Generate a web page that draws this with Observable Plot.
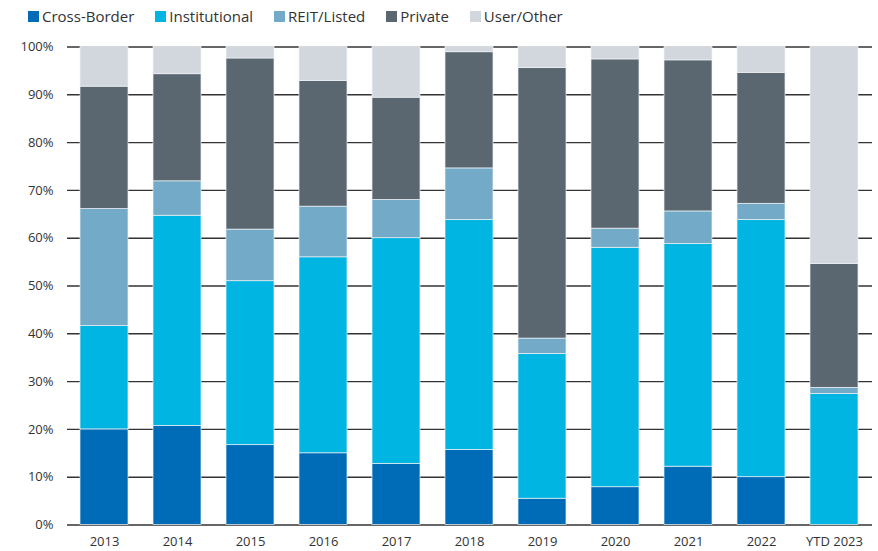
<!DOCTYPE html>
<html>
<head>
<meta charset="utf-8">
<script src="https://cdn.jsdelivr.net/npm/d3@7"></script>
<script src="https://cdn.jsdelivr.net/npm/@observablehq/plot@0.6"></script>
<style>
  body { margin: 0; background: #fff; font-family: "Open Sans", sans-serif; }
  #legend { height: 32px; display: flex; align-items: center; padding-left: 28px; font-size: 15px; color: #333; }
  #legend .item { display: flex; align-items: center; margin-right: 21px; }
  #legend .sw { width: 11px; height: 11px; margin-right: 3px; }
</style>
</head>
<body>
<div id="legend"></div>
<div id="chart"></div>
<script>
const years = ["2013","2014","2015","2016","2017","2018","2019","2020","2021","2022","YTD 2023"];
const seriesNames = ["Cross-Border","Institutional","REIT/Listed","Private","User/Other"];
const colors = ["#006BB6","#00B5E2","#72AAC8","#5A6670","#D1D7DC"];
const crossBorder   = [20.0, 20.7, 16.7, 15.0, 12.8, 15.7,  5.5,  7.9, 12.2, 10.0,  0.0];
const institutional = [21.6, 44.0, 34.3, 41.0, 47.2, 48.1, 30.3, 50.1, 46.6, 53.8, 27.4];
const reitListed    = [24.5,  7.2, 10.8, 10.6,  8.0, 10.8,  3.2,  4.0,  6.8,  3.4,  1.3];
const privateBuyers = [25.6, 22.4, 35.8, 26.3, 21.4, 24.3, 56.6, 35.4, 31.6, 27.4, 25.9];
const userOther     = [ 8.3,  5.7,  2.4,  7.1, 10.6,  1.1,  4.4,  2.6,  2.8,  5.4, 45.4];
const yTicks = [0,10,20,30,40,50,60,70,80,90,100];

const seriesValues = [crossBorder, institutional, reitListed, privateBuyers, userOther];
const data = [];
years.forEach((yr, i) => {
  seriesNames.forEach((s, j) => data.push({year: yr, series: s, value: seriesValues[j][i]}));
});

const legend = document.getElementById("legend");
seriesNames.forEach((s, j) => {
  const it = document.createElement("div");
  it.className = "item";
  it.innerHTML = `<span class="sw" style="background:${colors[j]}"></span><span>${s}</span>`;
  legend.appendChild(it);
});

const chart = Plot.plot({
  width: 878,
  height: 519,
  marginTop: 14.5,
  marginBottom: 26.5,
  marginLeft: 67,
  marginRight: 6,
  style: {fontFamily: "'Open Sans', sans-serif", fontSize: "13px", color: "#333"},
  x: {domain: years, label: null, paddingInner: 0.338, paddingOuter: 0.14, tickSize: 0, tickPadding: 12},
  y: {domain: [0, 100], ticks: yTicks, label: null, tickSize: 0, tickPadding: 14, tickFormat: d => d + "%"},
  color: {domain: seriesNames, range: colors},
  marks: [
    Plot.gridY(yTicks, {stroke: "#333", strokeOpacity: 1, strokeWidth: 1.4}),
    Plot.barY(data.filter(d => d.value > 0), Plot.stackY({order: seriesNames}, {x: "year", y: "value", fill: "series", stroke: "#eef2f5", strokeWidth: 0.7}))
  ]
});
document.getElementById("chart").appendChild(chart);
</script>
</body>
</html>
